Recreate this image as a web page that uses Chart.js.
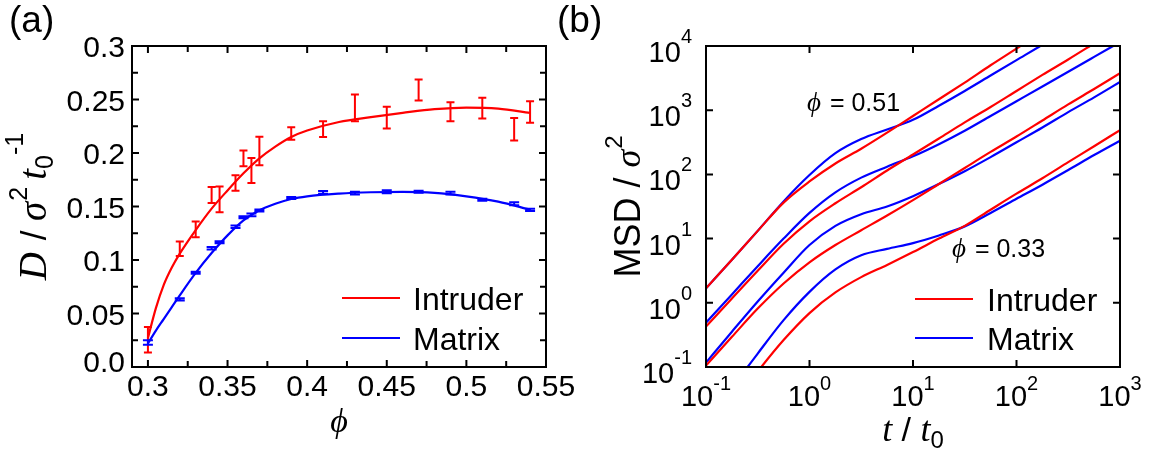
<!DOCTYPE html>
<html><head><meta charset="utf-8">
<script src="https://cdn.jsdelivr.net/npm/chart.js@4.4.1/dist/chart.umd.min.js"></script>
<style>
html,body{margin:0;padding:0;background:#fff;}
#wrap{position:relative;width:1157px;height:457px;overflow:hidden;background:#fff;}
canvas{position:absolute;top:0;}
#ca{left:0;} #cb{left:540px;}
</style></head><body>
<div id="wrap"><canvas id="ca" width="578" height="457"></canvas><canvas id="cb" width="617" height="457"></canvas></div>
<script>
// ---------- Panel (a) data ----------
const phi = [0.30, 0.32, 0.33, 0.34, 0.345, 0.355, 0.36, 0.365, 0.37, 0.39, 0.41, 0.43, 0.45, 0.47, 0.49, 0.51, 0.53, 0.54];
const intruderD = [0.0255, 0.1105, 0.1286, 0.1607, 0.1566, 0.172, 0.195, 0.1836, 0.2018, 0.2183, 0.2223, 0.2422, 0.233, 0.2589, 0.2386, 0.2419, 0.2222, 0.2383];
const intruderErr = [0.012, 0.0067, 0.0073, 0.0075, 0.012, 0.0072, 0.0073, 0.0117, 0.0133, 0.0058, 0.0073, 0.0125, 0.0102, 0.0098, 0.0089, 0.0097, 0.0106, 0.0101];
const matrixD = [0.0229, 0.0632, 0.0881, 0.111, 0.1166, 0.131, 0.140, 0.1422, 0.1463, 0.1579, 0.1631, 0.1625, 0.1638, 0.1638, 0.1625, 0.1563, 0.1525, 0.1469];
const matrixErr = [0.0022, 0.001, 0.001, 0.0012, 0.001, 0.0012, 0.001, 0.0012, 0.001, 0.001, 0.0013, 0.0012, 0.0014, 0.001, 0.0013, 0.001, 0.0014, 0.001];
const fitPhi = [0.30, 0.305, 0.31, 0.315, 0.32, 0.33, 0.34, 0.35, 0.36, 0.37, 0.38, 0.39, 0.40, 0.42, 0.44, 0.46, 0.48, 0.50, 0.52, 0.54];
const intruderFit = [0.027, 0.055, 0.077, 0.093, 0.106, 0.128, 0.148, 0.165, 0.181, 0.195, 0.206, 0.215, 0.221, 0.229, 0.2335, 0.2375, 0.241, 0.2425, 0.2415, 0.2375];
const matrixFit = [0.022, 0.034, 0.045, 0.056, 0.067, 0.088, 0.1065, 0.123, 0.137, 0.1465, 0.1525, 0.157, 0.1595, 0.162, 0.1633, 0.1637, 0.1628, 0.1595, 0.1545, 0.147];
const xTicksA = [0.3, 0.35, 0.4, 0.45, 0.5, 0.55];
const xLabelsA = ['0.3', '0.35', '0.4', '0.45', '0.5', '0.55'];
const yTicksA = [0, 0.05, 0.1, 0.15, 0.2, 0.25, 0.3];
const yLabelsA = ['0.0', '0.05', '0.1', '0.15', '0.2', '0.25', '0.3'];

// ---------- Panel (b) data ----------
const tValues = [0.1, 0.178, 0.316, 0.562, 1, 1.78, 3.16, 5.62, 10, 17.8, 31.6, 56.2, 100, 178, 316, 562, 1000];
const msdIntruder1 = [1.68, 4.68, 13.2, 36.3, 77.6, 148, 251, 447, 813, 1479, 2692, 5012, 9120, 16600, 30200, 55000, 100000];
const msdMatrix1   = [1.68, 4.68, 13.2, 38.0, 97.7, 214, 355, 501, 708, 1175, 1995, 3467, 6026, 10470, 18620, 33110, 58880];
const msdIntruder2 = [0.427, 1.17, 3.16, 8.32, 18.6, 35.5, 63.1, 115, 204, 363, 646, 1122, 1995, 3548, 6166, 10960, 19500];
const msdMatrix2   = [0.490, 1.35, 3.72, 10.0, 25.1, 52.5, 89.1, 132, 191, 295, 479, 813, 1380, 2344, 3981, 6761, 11480];
const msdIntruder3 = [0.105, 0.295, 0.813, 2.00, 4.27, 7.94, 13.5, 22.9, 39.8, 70.8, 126, 224, 389, 692, 1230, 2138, 3758];
const msdMatrix3   = [0.117, 0.355, 1.05, 2.95, 7.94, 15.8, 24.0, 31.6, 45.7, 70.8, 112, 186, 316, 537, 933, 1585, 2754];
const msdIntruder4 = [0.00794, 0.0251, 0.0851, 0.263, 0.692, 1.45, 2.51, 3.89, 6.17, 10.0, 15.8, 28.2, 50.1, 87.1, 155, 275, 490];
const msdMatrix4   = [0.0126, 0.0468, 0.162, 0.537, 1.48, 3.31, 5.50, 6.92, 8.51, 11.2, 15.5, 25.1, 41.7, 69.2, 117, 200, 335];
const decadeTicksX = [0.1, 1, 10, 100, 1000];
const decadeExpX = ['-1', '0', '1', '2', '3'];
const decadeTicksY = [0.1, 1, 10, 100, 1000, 10000];
const decadeExpY = ['-1', '0', '1', '2', '3', '4'];

// ---------- styles ----------
const RED = '#ff0000', BLUE = '#0000ff';
const SANS = "'Liberation Sans', Arial, Helvetica, sans-serif";
const SERIF = "'Liberation Serif', 'DejaVu Serif', 'Times New Roman', serif";

function segsWidth(ctx, segs){ let w=0; for(const s of segs){ ctx.font=s.font; w+=ctx.measureText(s.text).width+(s.after||0);} return w; }
function drawSegs(ctx, segs, x, y){ let cx=x; for(const s of segs){ ctx.font=s.font; ctx.fillText(s.text, cx, y+(s.dy||0)); cx+=ctx.measureText(s.text).width+(s.after||0);} }
function drawSegsCentered(ctx, segs, cx, y){ drawSegs(ctx, segs, cx-segsWidth(ctx,segs)/2, y); }
function drawRotated(ctx, segs, baseX, centerY){
  ctx.save(); ctx.translate(baseX, centerY); ctx.rotate(-Math.PI/2);
  drawSegs(ctx, segs, -segsWidth(ctx,segs)/2, 0); ctx.restore();
}
function frameAndTicks(ctx, a, xs, ys, xT, yT){
  ctx.strokeStyle='#000'; ctx.lineWidth=2;
  ctx.beginPath();
  for(const t of xT){ const p=xs.getPixelForValue(t.v); if(p<a.left+1||p>a.right-1) continue;
    ctx.moveTo(p,a.bottom); ctx.lineTo(p,a.bottom-t.l); ctx.moveTo(p,a.top); ctx.lineTo(p,a.top+t.l); }
  for(const t of yT){ const p=ys.getPixelForValue(t.v); if(p<a.top+1||p>a.bottom-1) continue;
    ctx.moveTo(a.left,p); ctx.lineTo(a.left+t.l,p); ctx.moveTo(a.right,p); ctx.lineTo(a.right-t.l,p); }
  ctx.stroke();
  ctx.strokeRect(a.left, a.top, a.right-a.left, a.bottom-a.top);
}
function errorBars(ctx, xs, ys, xv, yv, ev, color, cap){
  ctx.strokeStyle=color; ctx.lineWidth=2; ctx.beginPath();
  for(let i=0;i<xv.length;i++){
    const px=xs.getPixelForValue(xv[i]), pt=ys.getPixelForValue(yv[i]+ev[i]), pb=ys.getPixelForValue(yv[i]-ev[i]);
    ctx.moveTo(px,pt); ctx.lineTo(px,pb);
    ctx.moveTo(px-cap,pt); ctx.lineTo(px+cap,pt);
    ctx.moveTo(px-cap,pb); ctx.lineTo(px+cap,pb);
  }
  ctx.stroke();
}
function legend(ctx, x0, x1, xt, y1, y2){
  ctx.lineWidth=2.2;
  ctx.strokeStyle=RED; ctx.beginPath(); ctx.moveTo(x0,y1); ctx.lineTo(x1,y1); ctx.stroke();
  ctx.strokeStyle=BLUE; ctx.beginPath(); ctx.moveTo(x0,y2); ctx.lineTo(x1,y2); ctx.stroke();
  ctx.fillStyle='#000'; ctx.font='32px '+SANS; ctx.textAlign='left'; ctx.textBaseline='alphabetic';
  ctx.fillText('Intruder', xt, y1+11.5); ctx.fillText('Matrix', xt, y2+11.5);
}

const panelA = {
  id:'panelA',
  afterDraw(chart){
    const ctx=chart.ctx, a=chart.chartArea, xs=chart.scales.x, ys=chart.scales.y;
    ctx.save();
    errorBars(ctx, xs, ys, phi, intruderD, intruderErr, RED, 4);
    errorBars(ctx, xs, ys, phi, matrixD, matrixErr, BLUE, 5);
    const xT=[], yT=[];
    xTicksA.forEach(v=>xT.push({v, l:7}));
    for(let i=0;i<xTicksA.length-1;i++) xT.push({v:(xTicksA[i]+xTicksA[i+1])/2, l:6});
    yTicksA.forEach(v=>yT.push({v, l:7}));
    for(let i=0;i<yTicksA.length-1;i++) yT.push({v:(yTicksA[i]+yTicksA[i+1])/2, l:6});
    frameAndTicks(ctx, a, xs, ys, xT, yT);
    ctx.fillStyle='#000'; ctx.textBaseline='alphabetic';
    ctx.font='30px '+SANS; ctx.textAlign='center';
    xTicksA.forEach((v,i)=>ctx.fillText(xLabelsA[i], xs.getPixelForValue(v), 396));
    ctx.textAlign='right';
    yTicksA.forEach((v,i)=>ctx.fillText(yLabelsA[i], a.left-7, ys.getPixelForValue(v)+(v===0?5:11)));
    ctx.textAlign='left';
    legend(ctx, 342, 400, 413, 298, 338);
    // axis titles
    drawRotated(ctx, [
      {text:'D', font:'italic 39px '+SERIF, after:2},
      {text:' / ', font:'35px '+SANS},
      {text:'σ', font:'italic 39px '+SERIF, after:1},
      {text:'2', font:'25px '+SANS, dy:-19, after:7},
      {text:'t', font:'italic 39px '+SERIF},
      {text:'0', font:'25px '+SANS, dy:7},
      {text:'-1', font:'25px '+SANS, dy:-23}
    ], 46, (a.top+a.bottom)/2);
    ctx.font='italic 34px '+SERIF; ctx.textAlign='center';
    ctx.fillText('ϕ', (a.left+a.right)/2, 432);
    ctx.textAlign='left'; ctx.font='37px '+SANS;
    ctx.fillText('(a)', 9, 32);
    ctx.restore();
  }
};

const panelB = {
  id:'panelB',
  afterDraw(chart){
    const ctx=chart.ctx, a=chart.chartArea, xs=chart.scales.x, ys=chart.scales.y;
    ctx.save();
    frameAndTicks(ctx, a, xs, ys, decadeTicksX.map(v=>({v,l:7})), decadeTicksY.map(v=>({v,l:7})));
    ctx.fillStyle='#000'; ctx.textBaseline='alphabetic'; ctx.textAlign='left';
    decadeTicksY.forEach((v,i)=>{
      const p=ys.getPixelForValue(v);
      const segs=[{text:'10', font:'29px '+SANS},{text:decadeExpY[i], font:'20px '+SANS, dy:-19}];
      drawSegs(ctx, segs, a.left-14-segsWidth(ctx,segs), p+16);
    });
    decadeTicksX.forEach((v,i)=>{
      const p=xs.getPixelForValue(v);
      drawSegsCentered(ctx, [{text:'10', font:'29px '+SANS},{text:decadeExpX[i], font:'20px '+SANS, dy:-16}], p, 406);
    });
    legend(ctx, 915-540, 973-540, 987-540, 299, 338);
    // annotations
    ctx.fillStyle='#000';
    drawSegs(ctx, [{text:'ϕ', font:'italic 27px '+SERIF, after:2},{text:' = 0.51', font:'25px '+SANS}], 807-540, 111);
    drawSegs(ctx, [{text:'ϕ', font:'italic 27px '+SERIF, after:2},{text:' = 0.33', font:'25px '+SANS}], 952-540, 257);
    // titles
    drawRotated(ctx, [
      {text:'MSD / ', font:'36px '+SANS},
      {text:'σ', font:'italic 36px '+SERIF, after:1},
      {text:'2', font:'24px '+SANS, dy:-18}
    ], 640-540, (a.top+a.bottom)/2);
    drawSegsCentered(ctx, [
      {text:'t', font:'italic 36px '+SERIF},
      {text:' / ', font:'34px '+SANS},
      {text:'t', font:'italic 36px '+SERIF},
      {text:'0', font:'24px '+SANS, dy:7}
    ], (a.left+a.right)/2, 441);
    ctx.font='37px '+SANS; ctx.textAlign='left';
    ctx.fillText('(b)', 557-540, 32);
    ctx.restore();
  }
};

const common = {responsive:false, animation:false, devicePixelRatio:1,
  plugins:{legend:{display:false}, tooltip:{enabled:false}}, events:[]};

function lineDs(xv, yv, color){
  return {data:xv.map((x,i)=>({x, y:yv[i]})), showLine:true, borderColor:color, backgroundColor:color,
    borderWidth:2.2, pointRadius:0, fill:false, tension:0.4, cubicInterpolationMode:'monotone'};
}

new Chart(document.getElementById('ca'), {
  type:'scatter',
  data:{datasets:[
    lineDs(fitPhi, intruderFit, RED),
    lineDs(fitPhi, matrixFit, BLUE),
    {data:phi.map((x,i)=>({x,y:intruderD[i]})), pointRadius:0, showLine:false},
    {data:phi.map((x,i)=>({x,y:matrixD[i]})), pointRadius:0, showLine:false}
  ]},
  options:Object.assign({}, common, {
    layout:{padding:{left:132, right:32, top:46, bottom:90}},
    scales:{x:{type:'linear', min:0.29, max:0.55, display:false}, y:{type:'linear', min:0, max:0.3, display:false}}
  }),
  plugins:[panelA]
});

new Chart(document.getElementById('cb'), {
  type:'scatter',
  data:{datasets:[
    lineDs(tValues, msdIntruder1, RED),
    lineDs(tValues, msdIntruder2, RED),
    lineDs(tValues, msdIntruder3, RED),
    lineDs(tValues, msdIntruder4, RED),
    lineDs(tValues, msdMatrix1, BLUE),
    lineDs(tValues, msdMatrix2, BLUE),
    lineDs(tValues, msdMatrix3, BLUE),
    lineDs(tValues, msdMatrix4, BLUE)
  ]},
  options:Object.assign({}, common, {
    layout:{padding:{left:166, right:37, top:46, bottom:90}},
    scales:{x:{type:'logarithmic', min:0.1, max:1000, display:false}, y:{type:'logarithmic', min:0.1, max:10000, display:false}}
  }),
  plugins:[panelB]
});
</script>
</body></html>
